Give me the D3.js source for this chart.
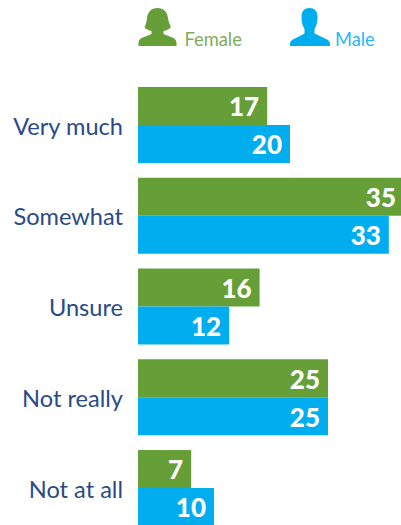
<!DOCTYPE html>
<html>
<head>
<meta charset="utf-8">
<script src="https://cdn.jsdelivr.net/npm/d3@7"></script>
<style>
html,body{margin:0;padding:0;background:#fff;overflow:hidden}
svg{display:block}
text{font-family:"Lato","Open Sans",sans-serif}
</style>
</head>
<body>
<div id="chart"></div>
<script>
const categories = ["Very much", "Somewhat", "Unsure", "Not really", "Not at all"];
const seriesNames = ["Female", "Male"];
const femaleValues = [17, 35, 16, 25, 7];
const maleValues = [20, 33, 12, 25, 10];
const seriesColors = ["#669f38", "#00adef"];

const width = 401, height = 525;
const svg = d3.select("#chart").append("svg").attr("width", width).attr("height", height);

const x = d3.scaleLinear().domain([0, 35]).range([138, 404]);
const y = d3.scaleBand().domain(categories).range([87, 526]).paddingInner(0.163);
const sub = d3.scaleBand().domain(seriesNames).range([0, y.bandwidth()]);

const rows = categories.map((c, i) => ({ c, vals: [femaleValues[i], maleValues[i]] }));

const row = svg.selectAll("g.row").data(rows).join("g")
  .attr("class", "row")
  .attr("transform", d => `translate(0,${y(d.c)})`);

row.append("text")
  .attr("x", 123)
  .attr("y", y.bandwidth() / 2 + 1.5)
  .attr("dy", "0.35em")
  .attr("text-anchor", "end")
  .attr("font-size", 23.6)
  .attr("fill", "#2a4a86")
  .text(d => d.c);

seriesNames.forEach((name, s) => {
  row.append("rect")
    .attr("x", x(0))
    .attr("y", sub(name))
    .attr("width", d => x(d.vals[s]) - x(0))
    .attr("height", sub.bandwidth())
    .attr("fill", seriesColors[s]);
  row.append("text")
    .attr("x", d => x(d.vals[s]) - 8)
    .attr("y", sub(name) + sub.bandwidth() / 2 + 1)
    .attr("dy", "0.36em")
    .attr("text-anchor", "end")
    .attr("font-size", 26)
    .attr("font-weight", 900)
    .attr("fill", "#fff")
    .text(d => d.vals[s]);
});

// Person silhouettes for the legend, drawn from the icon's top left corner
const femaleIcon = "M19,0 C25,0 29,4 29.5,10 C30,14 32,18 32.5,19 C31,21 28,22.5 25,23 L25,26 L35,30 C37,31 38,33 38,35 L38,38 L0,38 L0,35 C0,33 1,31 3,30 L13,26 L13,23 C10,22.5 7,21 6,19 C7,18 8,14 8.5,10 C9,4 13,0 19,0 Z";
const maleIcon = "M19.5,0 C24.5,0 27.5,3 27.5,9 C27.5,14 26.5,18 24.5,21 L24.5,25.5 L36,31 C38.5,32 40,33.5 40,36 L40,38 L0,38 L0,36 C0,33.5 1.5,32 4,31 L14.5,25.5 L14.5,21 C12.5,18 11.5,14 11.5,9 C11.5,3 14.5,0 19.5,0 Z";

const legend = [
  { icon: femaleIcon, ix: 138.5, tx: 184.5, i: 0 },
  { icon: maleIcon, ix: 290, tx: 335, i: 1 }
];
const lg = svg.selectAll("g.legend").data(legend).join("g").attr("class", "legend");
lg.append("path")
  .attr("d", d => d.icon)
  .attr("transform", d => `translate(${d.ix},8)`)
  .attr("fill", d => seriesColors[d.i]);
lg.append("text")
  .attr("x", d => d.tx)
  .attr("y", 46)
  .attr("font-size", 18.3)
  .attr("fill", d => d3.interpolateRgb(seriesColors[d.i], "#fff")(0.15))
  .text(d => seriesNames[d.i]);
</script>
</body>
</html>
